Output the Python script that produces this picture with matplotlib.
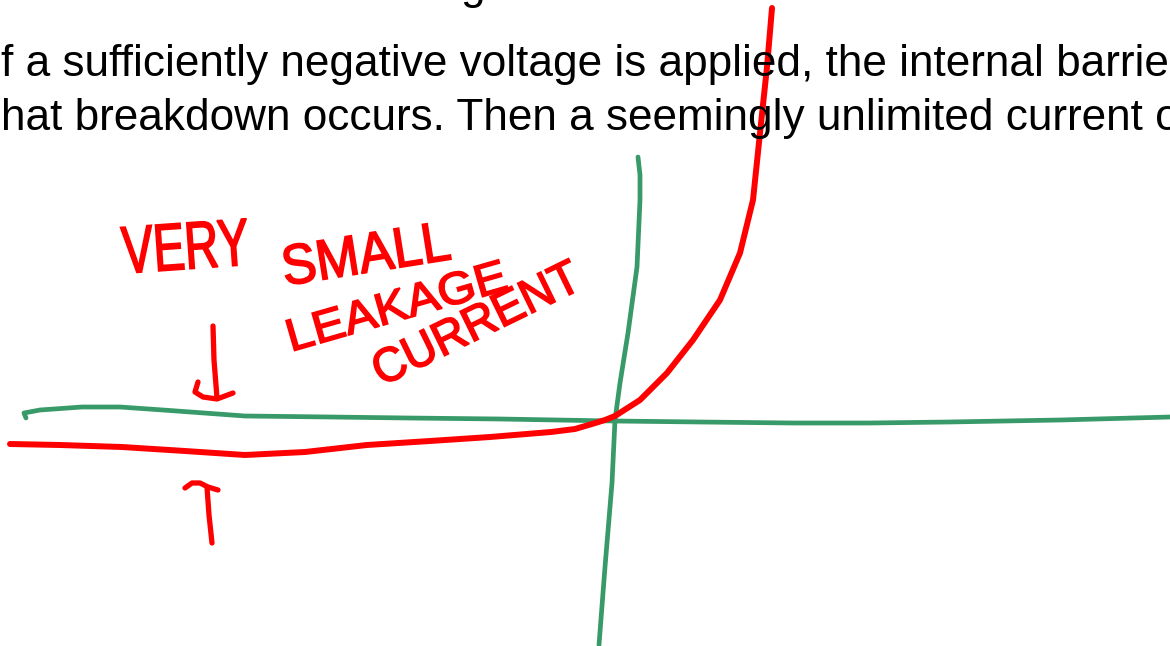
"""Hand-drawn diode I-V sketch over a cropped slide of text (reverse bias / breakdown)."""
import matplotlib

matplotlib.use("Agg")
import matplotlib.pyplot as plt
from matplotlib.font_manager import FontProperties
from matplotlib.patches import PathPatch
from matplotlib.textpath import TextPath
from matplotlib.transforms import Affine2D

W, H = 1170, 646

# slide text (cropped at both sides of the canvas)
TEXT_LINES = [
    "f a sufficiently negative voltage is applied, the internal barrie",
    "hat breakdown occurs. Then a seemingly unlimited current o",
]
TEXT_BASELINES = [76, 130]
TOP_GLYPH = "g"  # descender of the line above, only its tail is visible

# diode current curve, pixel coords
CURVE_X = [10, 60, 122, 185, 245, 305, 367, 430, 490, 551, 575, 592, 605, 615,
           640, 667, 693, 720, 740, 753, 760, 767, 772]
CURVE_Y = [444, 445, 447, 451, 455, 452, 445, 441, 437, 432, 429, 424, 420, 416,
           400, 373, 340, 300, 253, 200, 133, 67, 8]

# hand-drawn axes
VAXIS_X = [638, 640, 640, 637, 628, 620, 615, 612, 605, 599]
VAXIS_Y = [157, 175, 200, 267, 333, 383, 420, 483, 567, 645]
HAXIS_X = [26, 24, 40, 82, 120, 163, 245, 330, 408, 500, 614, 700, 793, 870, 949, 1060, 1170]
HAXIS_Y = [418, 413, 410, 407, 407, 410, 416, 417, 418, 419, 421, 422, 423, 423, 422, 420, 417]

# little arrows marking the gap (leakage current)
ARROW_DOWN = [[(213, 326), (214, 360), (217, 398)],
              [(198, 382), (195, 392), (203, 397), (217, 399), (233, 393)]]
ARROW_UP = [[(185, 488), (192, 483), (200, 483), (208, 487), (218, 490)],
            [(207, 487), (209, 515), (212, 543)]]

# scribbled words: text, centre, rotation, (length, letter height) in px
NOTES = [
    ("VERY", (185, 246), 4, (126, 46)),
    ("SMALL", (366, 253), 9, (166, 40)),
    ("LEAKAGE", (397, 305), 16, (222, 32)),
    ("CURRENT", (476, 322), 26, (222, 34)),
]

RED = "#ff0000"
GREEN = "#379a68"

fig = plt.figure(figsize=(W / 100, H / 100), dpi=100)
ax = fig.add_axes([0, 0, 1, 1])
ax.set_xlim(0, W)
ax.set_ylim(H, 0)
ax.axis("off")

for line, base in zip(TEXT_LINES, TEXT_BASELINES):
    ax.text(1, base, line, fontsize=31.8, family="Liberation Sans", va="baseline",
            ha="left", color="black")
ax.text(460, -1, TOP_GLYPH, fontsize=31.8, family="Liberation Sans", va="baseline",
        ha="left", color="black")

ax.plot(HAXIS_X, HAXIS_Y, color=GREEN, lw=3.4, solid_capstyle="round", solid_joinstyle="round")
ax.plot(VAXIS_X, VAXIS_Y, color=GREEN, lw=3.4, solid_capstyle="round", solid_joinstyle="round")
ax.plot(CURVE_X, CURVE_Y, color=RED, lw=4.3, solid_capstyle="round", solid_joinstyle="round")

for stroke in ARROW_DOWN + ARROW_UP:
    xs, ys = zip(*stroke)
    ax.plot(xs, ys, color=RED, lw=3.8, solid_capstyle="round", solid_joinstyle="round")

# words as stretched glyph outlines so they look tall and scrawled like the ink
prop = FontProperties(family="Liberation Sans")
for word, (cx, cy), rot, (length, height) in NOTES:
    tp = TextPath((0, 0), word, size=1, prop=prop)
    bb = tp.get_extents()
    tr = (Affine2D()
          .translate(-bb.x0 - bb.width / 2, -bb.y0 - bb.height / 2)
          .scale(length / bb.width, -height / bb.height)
          .rotate_deg(-rot)
          .translate(cx, cy))
    ax.add_patch(PathPatch(tr.transform_path(tp), facecolor=RED, edgecolor=RED, lw=1.2))

fig.savefig("out.png", dpi=100, facecolor="white")
